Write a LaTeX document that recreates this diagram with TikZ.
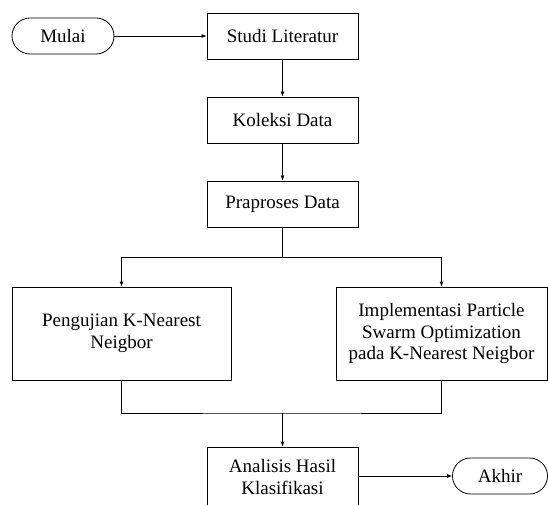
\documentclass[tikz,border=0pt]{standalone}
\usepackage{fontspec}
\setmainfont{Liberation Serif}
\usetikzlibrary{arrows.meta}

\begin{document}
\begin{tikzpicture}[x=1pt,y=1pt,line width=0.8pt,>={Latex[length=5pt,width=4pt]}]
  \clip (0,0) rectangle (548,504);
  \tikzstyle{every node}=[rectangle,draw,align=center,font=\fontsize{19}{21.5}\selectfont]
  \tikzstyle{terminal}=[rounded corners=18pt,minimum height=36pt]
  \tikzstyle{proses}=[minimum width=151pt,minimum height=46pt]

  \node[terminal,minimum width=102pt] (mulai) at (63,468) {Mulai};
  \node[proses] (studi)     at (282.5,468) {Studi Literatur};
  \node[proses] (koleksi)   at (282.5,384) {Koleksi Data};
  \node[proses] (praproses) at (282.5,300) {Praproses Data};
  \node[minimum width=219pt,minimum height=93pt] (uji-knn) at (121.5,170.5)
    {Pengujian K-Nearest\\Neigbor};
  \node[minimum width=211pt,minimum height=93pt] (pso-knn) at (441.5,170.5)
    {Implementasi Particle\\Swarm Optimization\\pada K-Nearest Neigbor};
  \node[proses,minimum height=60pt] (analisis) at (282.5,27)
    {Analisis Hasil\\Klasifikasi};
  \node[terminal,minimum width=95pt] (akhir) at (500,28) {Akhir};

%% draw connections
  \coordinate (gabung) at (282.5,91);
  \draw[->] (mulai) -- (studi);
  \draw[->] (studi) -- (koleksi);
  \draw[->] (koleksi) -- (praproses);
  \foreach \n in {uji-knn, pso-knn}
    \draw[->] (praproses.south) -- ++(0,-30) -| (\n.north);
  \draw (uji-knn.south) |- (gabung) -| (pso-knn.south);
  \draw[->] (gabung) -- (analisis);
  \draw[->] (analisis.east |- akhir.west) -- (akhir.west);
\end{tikzpicture}
\end{document}
